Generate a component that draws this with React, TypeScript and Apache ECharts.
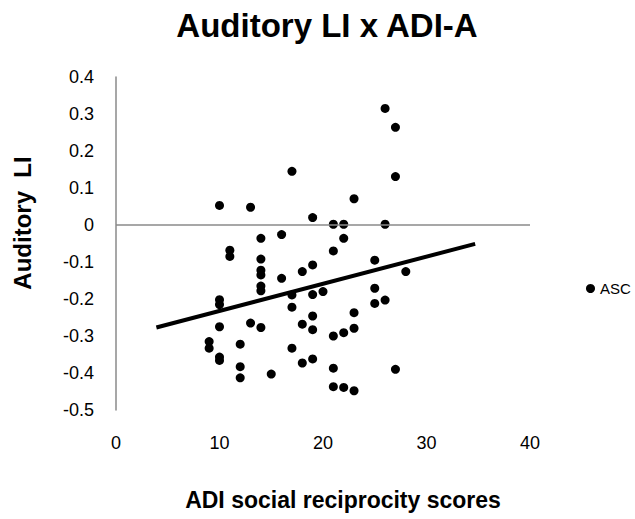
import React, { useEffect, useRef } from "react";
import * as echarts from "echarts";

// ADI social reciprocity scores (x) and Auditory LI (y) for the ASC group
const scoreX: number[] = [
  9, 9,
  10, 10, 10, 10, 10, 10,
  11, 11,
  12, 12, 12,
  13, 13,
  14, 14, 14, 14, 14, 14, 14,
  15,
  16, 16,
  17, 17, 17, 17,
  18, 18, 18,
  19, 19, 19, 19, 19, 19,
  20,
  21, 21, 21, 21, 21,
  22, 22, 22, 22,
  23, 23, 23, 23,
  25, 25, 25,
  26, 26, 26,
  27, 27, 27,
  28,
];
const auditoryLI: number[] = [
  -0.315, -0.333,
  0.053, -0.202, -0.215, -0.275, -0.357, -0.366,
  -0.068, -0.085,
  -0.322, -0.383, -0.413,
  0.048, -0.265,
  -0.036, -0.092, -0.122, -0.135, -0.165, -0.178, -0.277,
  -0.403,
  -0.026, -0.144,
  0.145, -0.189, -0.222, -0.333,
  -0.126, -0.268, -0.373,
  0.02, -0.108, -0.188, -0.246, -0.283, -0.362,
  -0.18,
  0.002, -0.07, -0.3, -0.387, -0.437,
  0.002, -0.036, -0.291, -0.439,
  0.071, -0.237, -0.279, -0.448,
  -0.095, -0.171, -0.212,
  0.315, 0.002, -0.203,
  0.264, 0.131, -0.39,
  -0.126,
];

// Linear trend line end points
const trendX: number[] = [3.9, 34.7];
const trendY: number[] = [-0.277, -0.051];

const xTicks = { min: 0, max: 40, interval: 10 };
const yTicks = { min: -0.5, max: 0.4, interval: 0.1 };

const titleText = "Auditory LI x ADI-A";
const xName = "ADI social reciprocity scores";
const yName = "Auditory  LI";
const seriesName = "ASC";

export default function App() {
  const ref = useRef<HTMLDivElement>(null);

  useEffect(() => {
    if (!ref.current) return;
    const chart = echarts.init(ref.current, null, { renderer: "svg" });
    const font = "'Liberation Sans', Arial, sans-serif";
    const points = scoreX.map((x, i) => [x, auditoryLI[i]]);
    const trend = trendX.map((x, i) => [x, trendY[i]]);

    chart.setOption({
      animation: false,
      backgroundColor: "#ffffff",
      title: {
        text: titleText,
        left: 322,
        textAlign: "center",
        top: 4,
        textStyle: {
          fontFamily: font,
          fontWeight: "bold",
          fontSize: 33,
          color: "#000",
        },
      },
      legend: {
        data: [seriesName],
        left: 586,
        top: 281,
        padding: 0,
        icon: "circle",
        itemWidth: 9,
        itemHeight: 9,
        textStyle: { fontFamily: font, fontSize: 15, color: "#000", padding: [0, 0, 0, 0] },
      },
      grid: { left: 116, right: 105, top: 77, bottom: 109 },
      xAxis: {
        type: "value",
        min: xTicks.min,
        max: xTicks.max,
        interval: xTicks.interval,
        axisLine: { show: false },
        axisTick: { show: false },
        splitLine: { show: false },
        axisLabel: {
          margin: 24,
          fontFamily: font,
          fontSize: 18,
          color: "#000",
        },
      },
      yAxis: {
        type: "value",
        min: yTicks.min,
        max: yTicks.max,
        interval: yTicks.interval,
        axisLine: {
          show: true,
          onZero: false,
          lineStyle: { color: "#8a8a8a", width: 1.5 },
        },
        axisTick: { show: false },
        splitLine: { show: false },
        axisLabel: {
          margin: 22,
          fontFamily: font,
          fontSize: 18,
          color: "#000",
          formatter: (v: number) => String(Number(v.toFixed(1))),
        },
      },
      graphic: [
        {
          type: "text",
          x: 22,
          y: 223,
          rotation: Math.PI / 2,
          style: {
            text: yName,
            font: `bold 24px ${font}`,
            fill: "#000",
            textAlign: "center",
            textVerticalAlign: "middle",
          },
        },
        {
          type: "text",
          x: 343,
          y: 500,
          style: {
            text: xName,
            font: `bold 23px ${font}`,
            fill: "#000",
            textAlign: "center",
            textVerticalAlign: "middle",
          },
        },
      ],
      series: [
        {
          name: seriesName,
          type: "scatter",
          data: points,
          symbol: "circle",
          symbolSize: 9,
          itemStyle: { color: "#000", opacity: 1 },
          markLine: {
            silent: true,
            symbol: "none",
            label: { show: false },
            lineStyle: { color: "#8a8a8a", width: 1.5, type: "solid" },
            data: [{ yAxis: 0 }],
            animation: false,
          },
          z: 3,
        },
        {
          name: "trend",
          type: "line",
          data: trend,
          symbol: "none",
          lineStyle: { color: "#000", width: 4 },
          z: 2,
        },
      ],
    });

    return () => chart.dispose();
  }, []);

  return (
    <div
      ref={ref}
      style={{ position: "fixed", left: 0, top: 0, width: 635, height: 519 }}
    />
  );
}
